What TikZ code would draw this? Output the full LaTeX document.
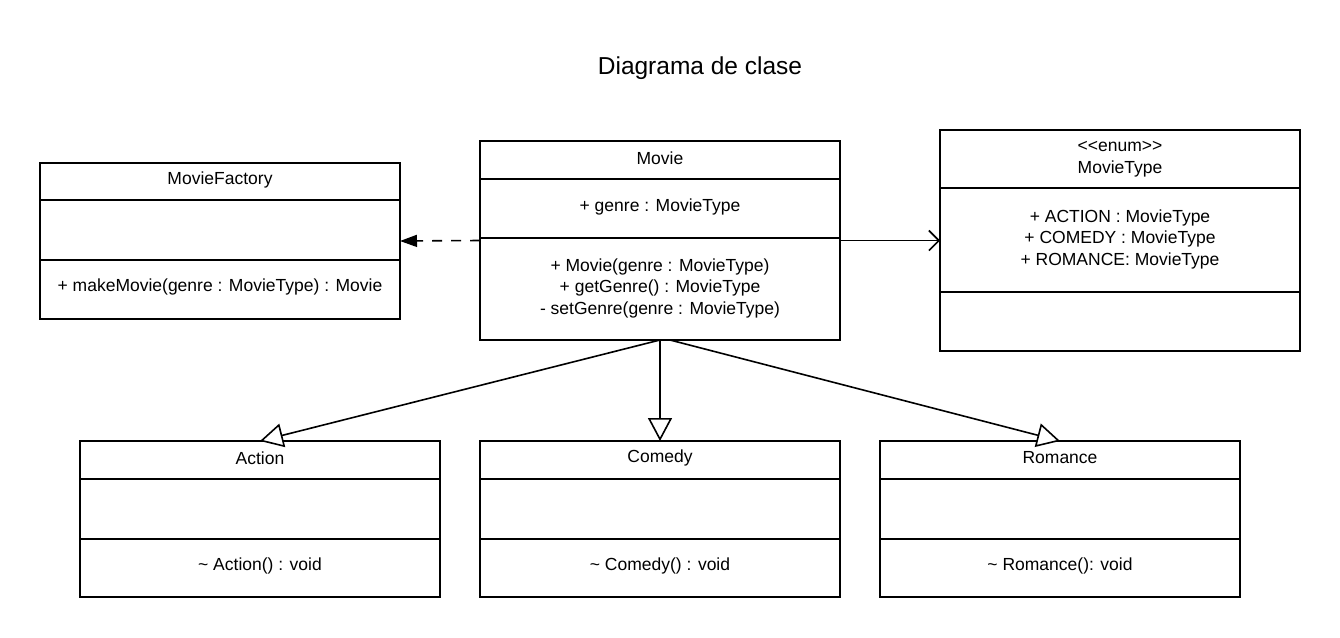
\documentclass[tikz,border=0pt]{standalone}
\usepackage{fontspec}
\setmainfont{Liberation Sans}
\usetikzlibrary{arrows.meta,calc}
\begin{document}
\begin{tikzpicture}[x=1pt,y=-1pt,
  umlbox/.style={draw,line width=1.6pt,minimum width=360pt,anchor=north west,inner sep=0pt,outer sep=0pt},
  txt/.style={font=\fontsize{17.5}{21.5}\selectfont,align=center,inner sep=0pt},
  sep/.style={line width=1.6pt},
  conn/.style={line width=1.6pt}
]
\useasboundingbox[fill=white] (0,0) rectangle (1340,637);
\node[font=\fontsize{24.5}{28}\selectfont] (title) at (700,68) {Diagrama de clase};
% boxes
\node[umlbox,minimum height=156pt] (factory) at (40,163) {};
\node[umlbox,minimum height=199pt] (movie) at (480,141) {};
\node[umlbox,minimum height=221pt] (type) at (940,130) {};
\node[umlbox,minimum height=156pt] (action) at (80,441) {};
\node[umlbox,minimum height=156pt] (comedy) at (480,441) {};
\node[umlbox,minimum height=156pt] (romance) at (880,441) {};
% separators
\draw[sep] (40,200) -- (400,200) (40,260) -- (400,260);
\draw[sep] (480,179) -- (840,179) (480,238) -- (840,238);
\draw[sep] (940,188) -- (1300,188) (940,292) -- (1300,292);
\draw[sep] (80,479) -- (440,479) (80,539) -- (440,539);
\draw[sep] (480,479) -- (840,479) (480,539) -- (840,539);
\draw[sep] (880,479) -- (1240,479) (880,539) -- (1240,539);
% texts
\node[txt] (factoryname) at (220,180) {MovieFactory};
\node[txt] (factoryop) at (220,287) {+ makeMovie(genre : MovieType) : Movie};
\node[txt] (moviename) at (660,158) {Movie};
\node[txt] (movieattr) at (660,207) {+ genre : MovieType};
\node[txt] (movieops) at (660,288) {+ Movie(genre : MovieType)\\+ getGenre() : MovieType\\- setGenre(genre : MovieType)};
\node[txt] (typename) at (1120,159) {<\kern0pt<enum>\kern0pt>\\MovieType};
\node[txt] (typeattr) at (1120,239) {+ ACTION : MovieType\\+ COMEDY : MovieType\\+ ROMANCE: MovieType};
\node[txt] (actionname) at (260,458) {Action};
\node[txt] (actionop) at (260,566) {\textasciitilde{} Action() : void};
\node[txt] (comedyname) at (660,458) {Comedy};
\node[txt] (comedyop) at (660,566) {\textasciitilde{} Comedy() : void};
\node[txt] (romancename) at (1060,458) {Romance};
\node[txt] (romanceop) at (1060,566) {\textasciitilde{} Romance(): void};
% connectors
\draw[conn,dash pattern=on 10pt off 9pt,-{Triangle[length=17pt,width=12pt]}] (movie.west) -- (factory.east);
\draw[conn,-{Straight Barb[length=10pt,width=20pt,line width=1.6pt]}] (movie.east) -- (type.west);
\draw[conn,-{Triangle[open,length=23pt,width=24pt,fill=white]}] (movie.south) -- (comedy.north);
\draw[conn,-{Triangle[open,length=23pt,width=24pt,fill=white]}] (movie.south) -- (action.north);
\draw[conn,-{Triangle[open,length=23pt,width=24pt,fill=white]}] ($(movie.south)+(10,0)$) -- (romance.north);
\end{tikzpicture}
\end{document}
